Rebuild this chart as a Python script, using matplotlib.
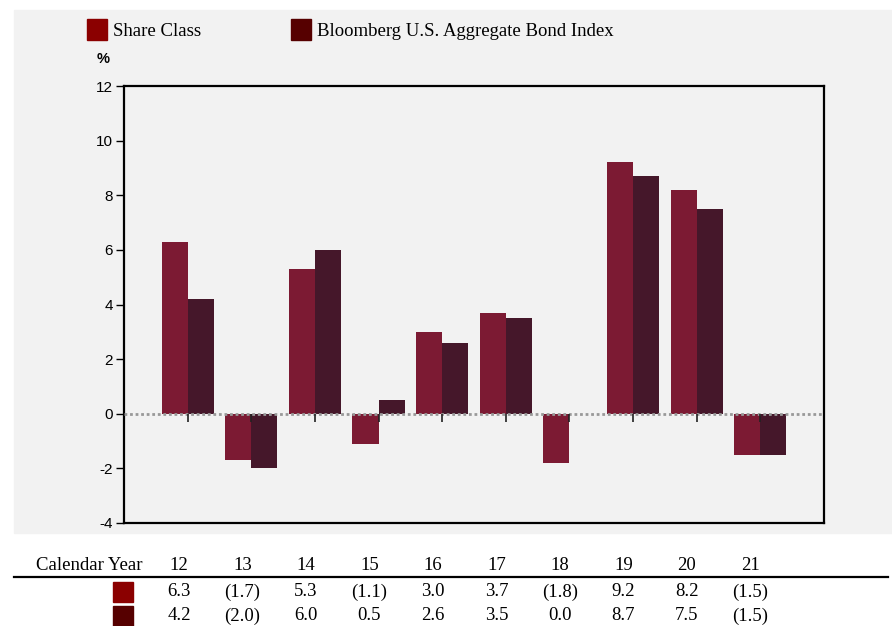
import matplotlib.pyplot as plt
from matplotlib.patches import Rectangle
import numpy as np

plt.rcParams['axes.unicode_minus'] = False

# data
years = ['12', '13', '14', '15', '16', '17', '18', '19', '20', '21']
share_class = [6.3, -1.7, 5.3, -1.1, 3.0, 3.7, -1.8, 9.2, 8.2, -1.5]
bond_index = [4.2, -2.0, 6.0, 0.5, 2.6, 3.5, 0.0, 8.7, 7.5, -1.5]

legend_labels = ['Share Class', 'Bloomberg U.S. Aggregate Bond Index']
bar_colors = ['#7c1a33', '#45172a']
key_colors = ['#8b0000', '#560000']


def fmt(v):
    return '({:.1f})'.format(-v) if v < 0 else '{:.1f}'.format(v)


W, H = 892, 626
fig = plt.figure(figsize=(W / 100, H / 100), dpi=100)
serif = 'Liberation Serif'
sans = 'Liberation Sans'
fs = 13.5

# grey panel behind chart
fig.patches.append(Rectangle((14 / W, 1 - 533 / H), (W - 14) / W, (533 - 10) / H,
                             transform=fig.transFigure, color='#f2f2f2', zorder=-5))

ax = fig.add_axes([124 / W, 1 - 523 / H, 700 / W, 437 / H])
ax.set_zorder(2)
ax.set_facecolor('#f2f2f2')

x = np.arange(len(years))
w = 0.41
ax.bar(x - w / 2, share_class, w, color=bar_colors[0], zorder=2)
ax.bar(x + w / 2, bond_index, w, color=bar_colors[1], zorder=2)
ax.axhline(0, color='#999999', lw=2, ls=(0, (1, 1)), zorder=3)
ax.vlines(x, -0.3, 0, color='#222222', lw=1.2, zorder=4)

ax.set_xlim(-1, 10)
ax.set_ylim(-4, 12)
ax.set_yticks(range(-4, 13, 2))
ax.set_xticks([])
ax.tick_params(axis='y', direction='out', length=6, width=1, labelsize=11, pad=2)
for lab in ax.get_yticklabels():
    lab.set_fontfamily(sans)
for s in ax.spines.values():
    s.set_linewidth(1.6)
    s.set_color('black')

fig.text(103 / W, 1 - 59 / H, '%', fontfamily=sans, fontsize=10.5, fontweight='bold',
         ha='center', va='center')

# legend
for i, (lab, xs) in enumerate(zip(legend_labels, [87, 291])):
    fig.patches.append(Rectangle((xs / W, 1 - 40 / H), 20 / W, 21 / H,
                                 transform=fig.transFigure, color=key_colors[i], zorder=1))
    fig.text((xs + 26) / W, 1 - 31 / H, lab, fontfamily=serif, fontsize=fs,
             ha='left', va='center')

# table below
fig.text(36 / W, 1 - 565 / H, 'Calendar Year', fontfamily=serif, fontsize=fs,
         ha='left', va='center')
fig.add_artist(plt.Line2D([14 / W, 888 / W], [1 - 577 / H, 1 - 577 / H],
                          color='black', lw=1.6, transform=fig.transFigure))
col_x = [179 + 63.5 * i for i in range(len(years))]
for cx, yr in zip(col_x, years):
    fig.text(cx / W, 1 - 565 / H, yr, fontfamily=serif, fontsize=fs, ha='center', va='center')
for r, (vals, ry) in enumerate(zip([share_class, bond_index], [592, 616])):
    fig.patches.append(Rectangle((113 / W, 1 - (ry + 10) / H), 20 / W, 20 / H,
                                 transform=fig.transFigure, color=key_colors[r], zorder=1))
    for cx, v in zip(col_x, vals):
        fig.text(cx / W, 1 - ry / H, fmt(v), fontfamily=serif, fontsize=fs,
                 ha='center', va='center')

fig.savefig('out.png', dpi=100)
